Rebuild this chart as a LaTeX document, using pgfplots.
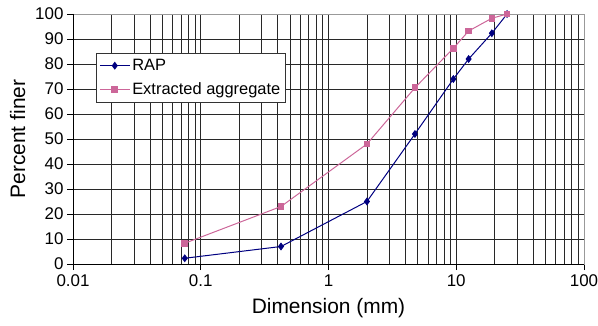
\documentclass[border=0pt]{standalone}
\usepackage{pgfplots}
\pgfplotsset{compat=1.18}
\usepackage{fontspec}
\setmainfont{Liberation Sans}
\definecolor{rapc}{RGB}{0,0,128}
\definecolor{extc}{RGB}{204,102,153}
\definecolor{gridc}{RGB}{40,40,40}
\begin{document}
\begin{tikzpicture}
\path[use as bounding box] (-73bp,-62bp) rectangle (525bp,264bp);
\begin{axis}[
  at={(0,0)}, anchor=south west,
  scale only axis, width=511bp, height=250bp,
  xmode=log, xmin=0.01, xmax=100, ymin=0, ymax=100,
  ytick={0,10,...,100},
  xtick={0.01,0.1,1,10,100},
  xticklabels={0.01,0.1,1,10,100},
  log ticks with fixed point,
  /pgf/number format/assume math mode=true,
  ticklabel style={font=\fontsize{17}{19}\selectfont},
  xmajorgrids, xminorgrids, ymajorgrids,
  grid style={draw=gridc, line width=0.6bp},
  minor grid style={draw=gridc, line width=0.6bp},
  axis line style={draw=gray!80, line width=0.8bp},
  tick align=outside, tickpos=left,
  major tick length=6bp, minor tick length=0pt,
  tick style={draw=black, line width=0.6bp},
  xlabel={Dimension (mm)}, ylabel={Percent finer},
  label style={font=\fontsize{21}{24}\selectfont},
  xlabel style={yshift=-5bp},
  ylabel style={yshift=3bp},
  xticklabel style={yshift=-1bp},
  legend style={at={(0.045,0.844)}, anchor=north west, draw=black!80, line width=0.6bp,
    font=\fontsize{16.5}{18}\selectfont, fill=white, row sep=7bp, inner xsep=3bp, inner ysep=4bp},
  legend cell align=left,
  legend image code/.code={\draw[mark repeat=2,mark phase=2] plot coordinates {(0bp,0bp) (15bp,0bp) (30bp,0bp)};},
]
\addplot[rapc, line width=1bp, mark=diamond*, mark size=3.2bp, mark options={fill=rapc, draw=rapc}]
  coordinates {(0.075,2.3) (0.425,7) (2.0,25) (4.75,52) (9.5,74) (12.5,82) (19,92.3) (25,100)};
\addlegendentry{RAP}
\addplot[extc, line width=1bp, mark=square*, mark size=2.8bp, mark options={fill=extc, draw=extc}]
  coordinates {(0.075,8.3) (0.425,23) (2.0,48) (4.75,70.5) (9.5,86.3) (12.5,93.2) (19,98.3) (25,100)};
\addlegendentry{Extracted aggregate}
\draw[black, line width=0.8bp] (rel axis cs:0,1) -- (rel axis cs:0,0) -- (rel axis cs:1,0);
\end{axis}
\end{tikzpicture}
\end{document}
